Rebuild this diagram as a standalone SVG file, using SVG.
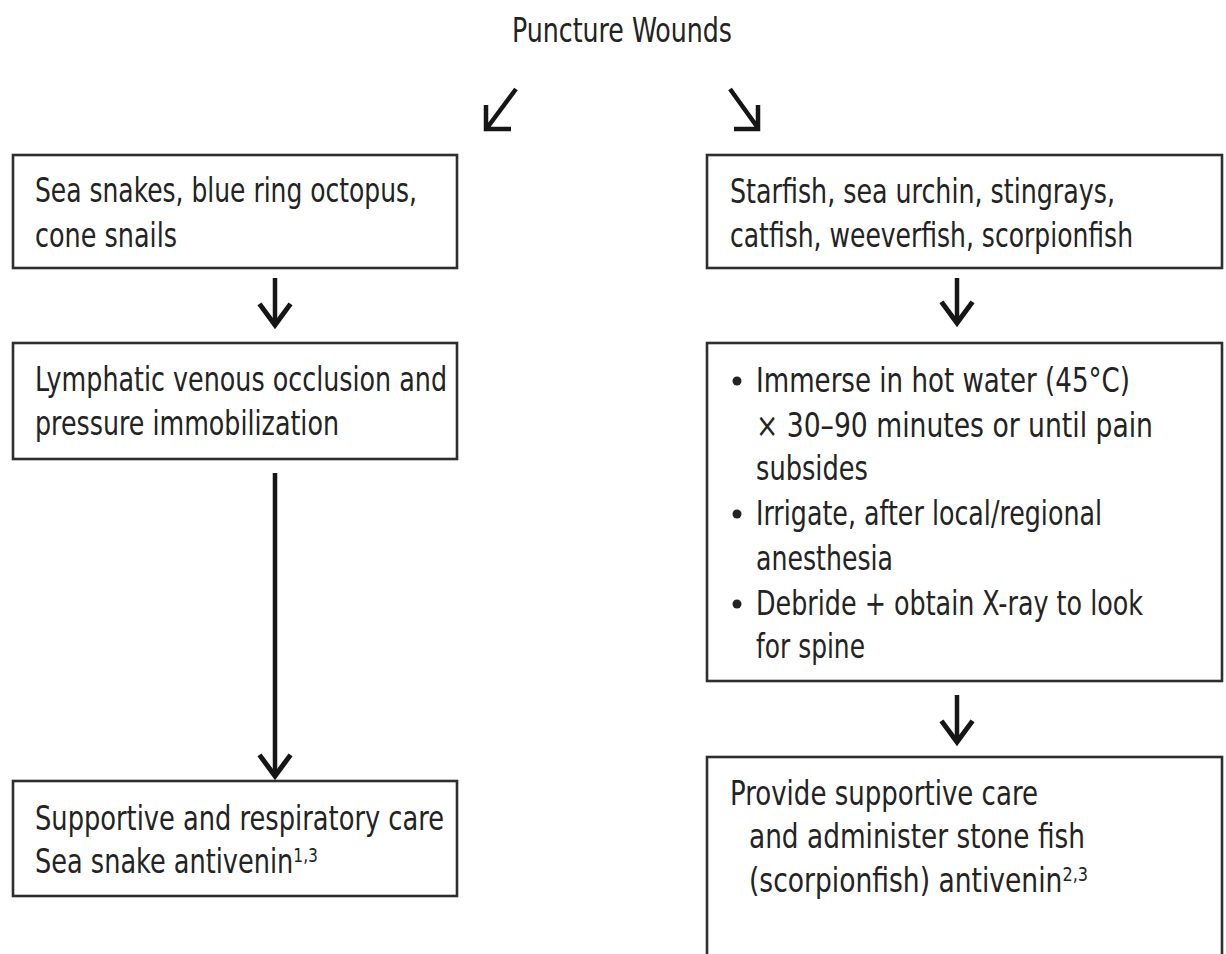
<svg xmlns="http://www.w3.org/2000/svg" width="1226" height="954" viewBox="0 0 1226 954">
<style>
text{font-family:"Liberation Sans Narrow","DejaVu Sans Condensed","Liberation Sans",sans-serif;font-size:33px;fill:#232323}
.sup{font-size:20px}
.box{fill:#fff;stroke:#2e2e2e;stroke-width:2.6}
.conn{fill:none;stroke:#161616;stroke-width:4.5}
.bul{fill:#232323}
</style>
<defs>
<marker id="ah" markerUnits="userSpaceOnUse" markerWidth="40" markerHeight="40" viewBox="-22 -18 26 36" refX="0" refY="0" orient="auto" overflow="visible">
<path d="M-19,-14 L0,0 L-19,14" fill="none" stroke="#161616" stroke-width="4.5"/>
</marker>
</defs>
<rect width="1226" height="954" fill="#fff"/>
<g id="title"><text x="512" y="42" textLength="220" lengthAdjust="spacingAndGlyphs">Puncture Wounds</text></g>
<g id="connectors">
<path class="conn" d="M516,89 L487,128 M486,105 L486,129 L511,129"/>
<path class="conn" d="M730,89 L758,128 M758,105 L758,129 L734,129"/>
<line class="conn" x1="275" y1="278" x2="275" y2="325" marker-end="url(#ah)"/>
<line class="conn" x1="275" y1="473" x2="275" y2="776" marker-end="url(#ah)"/>
<line class="conn" x1="957" y1="278" x2="957" y2="323" marker-end="url(#ah)"/>
<line class="conn" x1="957" y1="695" x2="957" y2="742" marker-end="url(#ah)"/>
</g>
<g id="L1"><rect class="box" x="13" y="155" width="444" height="113"/>
<text x="35" y="202" textLength="382" lengthAdjust="spacingAndGlyphs">Sea snakes, blue ring octopus,</text>
<text x="35" y="247" textLength="142" lengthAdjust="spacingAndGlyphs">cone snails</text></g>
<g id="L2"><rect class="box" x="13" y="343" width="444" height="116"/>
<text x="35" y="391" textLength="412" lengthAdjust="spacingAndGlyphs">Lymphatic venous occlusion and</text>
<text x="35" y="435" textLength="304" lengthAdjust="spacingAndGlyphs">pressure immobilization</text></g>
<g id="L3"><rect class="box" x="13" y="781" width="444" height="115"/>
<text x="35" y="830" textLength="409" lengthAdjust="spacingAndGlyphs">Supportive and respiratory care</text>
<text x="35" y="873" textLength="283" lengthAdjust="spacingAndGlyphs">Sea snake antivenin<tspan class="sup" dy="-11">1,3</tspan></text></g>
<g id="R1"><rect class="box" x="707" y="155" width="515" height="113"/>
<text x="730" y="203" textLength="385" lengthAdjust="spacingAndGlyphs">Starfish, sea urchin, stingrays,</text>
<text x="730" y="247" textLength="403" lengthAdjust="spacingAndGlyphs">catfish, weeverfish, scorpionfish</text></g>
<g id="R2"><rect class="box" x="707" y="343" width="515" height="338"/>
<circle class="bul" cx="737" cy="381" r="4.5"/>
<text x="756" y="392" textLength="374" lengthAdjust="spacingAndGlyphs">Immerse in hot water (45°C)</text>
<text x="756" y="437" textLength="397" lengthAdjust="spacingAndGlyphs">× 30–90 minutes or until pain</text>
<text x="756" y="480" textLength="112" lengthAdjust="spacingAndGlyphs">subsides</text>
<circle class="bul" cx="737" cy="514" r="4.5"/>
<text x="756" y="525" textLength="346" lengthAdjust="spacingAndGlyphs">Irrigate, after local/regional</text>
<text x="756" y="570" textLength="137" lengthAdjust="spacingAndGlyphs">anesthesia</text>
<circle class="bul" cx="737" cy="604" r="4.5"/>
<text x="756" y="615" textLength="387" lengthAdjust="spacingAndGlyphs">Debride + obtain X-ray to look</text>
<text x="756" y="658" textLength="109" lengthAdjust="spacingAndGlyphs">for spine</text></g>
<g id="R3"><rect class="box" x="707" y="757" width="515" height="260"/>
<text x="730" y="805" textLength="308" lengthAdjust="spacingAndGlyphs">Provide supportive care</text>
<text x="749" y="848" textLength="336" lengthAdjust="spacingAndGlyphs">and administer stone fish</text>
<text x="749" y="892" textLength="339" lengthAdjust="spacingAndGlyphs">(scorpionfish) antivenin<tspan class="sup" dy="-11">2,3</tspan></text></g>
</svg>
